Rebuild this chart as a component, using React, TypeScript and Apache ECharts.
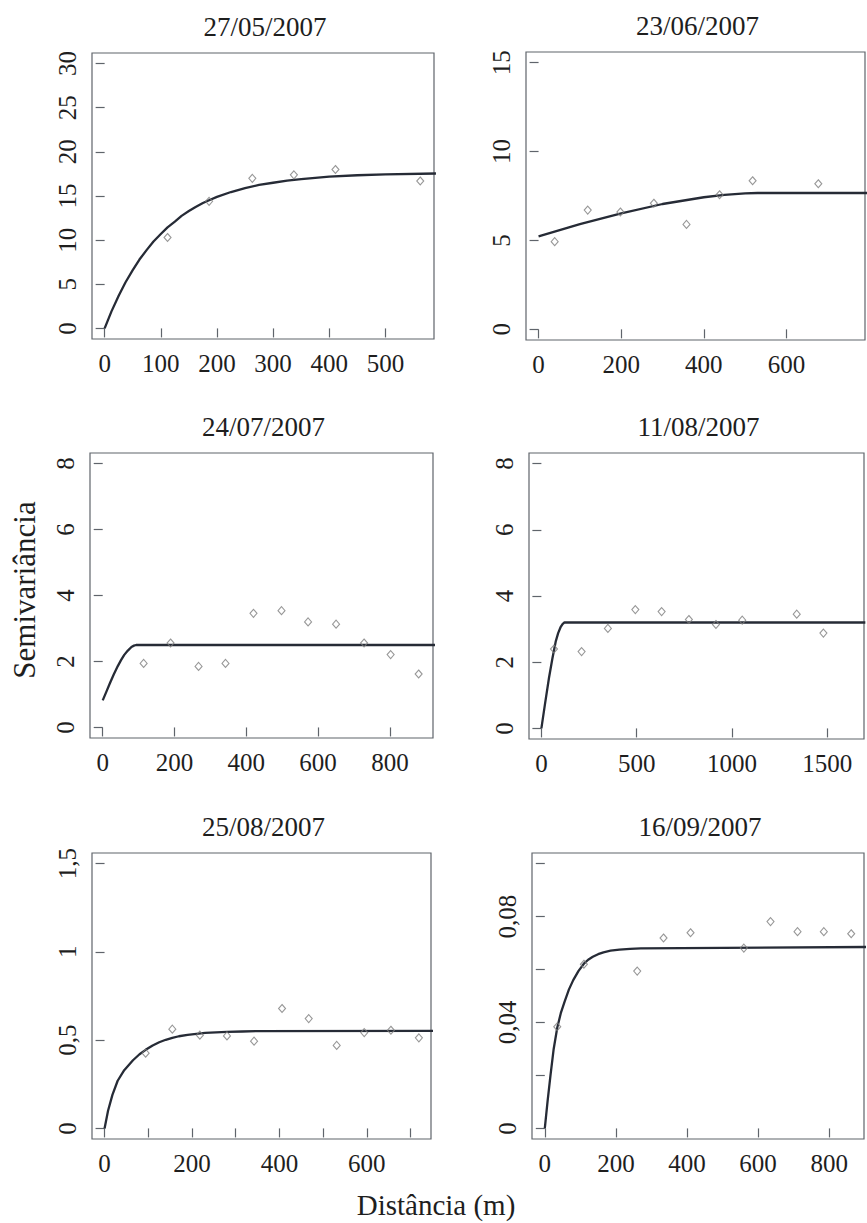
import React, { useEffect, useRef } from "react";
import * as echarts from "echarts";

// ---- Data ----
const panelTitles = ["27/05/2007", "23/06/2007", "24/07/2007", "11/08/2007", "25/08/2007", "16/09/2007"];

// 27/05/2007
const d1Dist = [112, 186, 263, 337, 411, 562];
const d1Semi = [10.3, 14.4, 17.0, 17.4, 18.0, 16.7];
const m1Dist = [0, 12, 25, 37, 50, 62, 75, 87, 100, 112, 125, 137, 150, 162, 175, 187, 200, 225, 250, 275, 300, 325, 350, 375, 400, 450, 500, 590];
const m1Semi = [0, 1.9, 3.7, 5.2, 6.6, 7.8, 8.9, 9.85, 10.7, 11.45, 12.1, 12.75, 13.3, 13.75, 14.2, 14.55, 14.9, 15.45, 15.9, 16.25, 16.5, 16.75, 16.9, 17.05, 17.2, 17.35, 17.45, 17.55];

// 23/06/2007
const d2Dist = [39, 119, 198, 279, 358, 438, 518, 677];
const d2Semi = [4.93, 6.71, 6.6, 7.09, 5.9, 7.57, 8.36, 8.19];
const m2Dist = [0, 100, 200, 300, 400, 450, 500, 530, 800];
const m2Semi = [5.23, 5.92, 6.52, 7.05, 7.43, 7.56, 7.65, 7.67, 7.67];

// 24/07/2007
const d3Dist = [114, 189, 267, 342, 420, 498, 572, 650, 728, 802, 880];
const d3Semi = [1.94, 2.56, 1.85, 1.94, 3.46, 3.54, 3.2, 3.13, 2.56, 2.21, 1.62];
const m3Dist = [0, 10, 20, 31, 42, 51, 60, 70, 80, 87, 93, 930];
const m3Semi = [0.82, 1.08, 1.34, 1.61, 1.86, 2.04, 2.2, 2.33, 2.44, 2.48, 2.5, 2.5];

// 11/08/2007
const d4Dist = [66, 211, 349, 493, 631, 774, 916, 1054, 1340, 1480];
const d4Semi = [2.4, 2.32, 3.02, 3.59, 3.53, 3.29, 3.14, 3.27, 3.45, 2.88];
const m4Dist = [0, 20, 40, 58, 75, 88, 100, 111, 121, 1700];
const m4Semi = [0, 0.78, 1.53, 2.12, 2.62, 2.88, 3.05, 3.15, 3.2, 3.2];

// 25/08/2007
const d5Dist = [94, 155, 218, 280, 342, 406, 467, 531, 594, 655, 719];
const d5Semi = [0.426, 0.562, 0.528, 0.524, 0.494, 0.679, 0.622, 0.47, 0.543, 0.556, 0.513];
const m5Dist = [0, 8, 18, 30, 45, 65, 80, 94, 110, 125, 140, 155, 170, 190, 210, 230, 255, 280, 315, 350, 760];
const m5Semi = [0, 0.1, 0.19, 0.27, 0.33, 0.386, 0.42, 0.445, 0.47, 0.488, 0.502, 0.513, 0.522, 0.53, 0.536, 0.541, 0.544, 0.547, 0.549, 0.551, 0.552];

// 16/09/2007
const d6Dist = [35, 110, 260, 334, 410, 560, 635, 711, 785, 862];
const d6Semi = [0.0384, 0.062, 0.0594, 0.0719, 0.0739, 0.0681, 0.0781, 0.0743, 0.0743, 0.0735];
const m6Dist = [0, 8, 16, 25, 35, 45, 56, 68, 80, 95, 110, 122, 135, 150, 165, 185, 210, 240, 270, 910];
const m6Semi = [0, 0.0105, 0.02, 0.03, 0.038, 0.0435, 0.048, 0.0525, 0.056, 0.0595, 0.0622, 0.0637, 0.0648, 0.0658, 0.0665, 0.0671, 0.0675, 0.0678, 0.068, 0.0685];

// Axis ticks and labels
const x1Ticks = [0, 100, 200, 300, 400, 500];
const y1Ticks = [0, 5, 10, 15, 20, 25, 30];
const x2Ticks = [0, 200, 400, 600];
const y2Ticks = [0, 5, 10, 15];
const x3Ticks = [0, 200, 400, 600, 800];
const y3Ticks = [0, 2, 4, 6, 8];
const x4Ticks = [0, 500, 1000, 1500];
const y4Ticks = [0, 2, 4, 6, 8];
const x5Ticks = [0, 100, 200, 300, 400, 500, 600, 700];
const x5Labels = [0, 200, 400, 600];
const y5Ticks = [0, 0.5, 1, 1.5];
const x6Ticks = [0, 200, 400, 600, 800];
const y6Ticks = [0, 0.02, 0.04, 0.06, 0.08, 0.1];
const y6Labels = [0, 0.04, 0.08];

const yAxisTitle = "Semivariância";
const xAxisTitle = "Distância (m)";

const FONT = "'Liberation Serif', serif";

const pairs = (xs: number[], ys: number[]) => xs.map((x, i) => [x, ys[i]]);

const panels = [
  { grid: { left: 92, top: 53, width: 342, height: 286 }, xr: [-22.5, 586.5], yr: [-1.2, 31.2],
    xt: x1Ticks, xl: x1Ticks, yt: y1Ticks, yl: y1Ticks, pts: pairs(d1Dist, d1Semi), mdl: pairs(m1Dist, m1Semi) },
  { grid: { left: 526, top: 52, width: 339, height: 288 }, xr: [-30.4, 790], yr: [-0.6, 15.6],
    xt: x2Ticks, xl: x2Ticks, yt: y2Ticks, yl: y2Ticks, pts: pairs(d2Dist, d2Semi), mdl: pairs(m2Dist, m2Semi) },
  { grid: { left: 90, top: 453, width: 343, height: 285 }, xr: [-35.4, 920], yr: [-0.32, 8.32],
    xt: x3Ticks, xl: x3Ticks, yt: y3Ticks, yl: y3Ticks, pts: pairs(d3Dist, d3Semi), mdl: pairs(m3Dist, m3Semi) },
  { grid: { left: 529, top: 453, width: 335, height: 286 }, xr: [-65, 1693], yr: [-0.32, 8.32],
    xt: x4Ticks, xl: x4Ticks, yt: y4Ticks, yl: y4Ticks, pts: pairs(d4Dist, d4Semi), mdl: pairs(m4Dist, m4Semi) },
  { grid: { left: 92, top: 853, width: 339, height: 286 }, xr: [-28.7, 746.7], yr: [-0.06, 1.56],
    xt: x5Ticks, xl: x5Labels, yt: y5Ticks, yl: y5Ticks, pts: pairs(d5Dist, d5Semi), mdl: pairs(m5Dist, m5Semi) },
  { grid: { left: 532, top: 853, width: 332, height: 286 }, xr: [-36, 898], yr: [-0.004, 0.104],
    xt: x6Ticks, xl: x6Ticks, yt: y6Ticks, yl: y6Labels, pts: pairs(d6Dist, d6Semi), mdl: pairs(m6Dist, m6Semi) },
];

const fmt = (v: number) => String(Math.round(v * 1000) / 1000).replace(".", ",");

export default function App() {
  const ref = useRef<HTMLDivElement>(null);
  useEffect(() => {
    if (!ref.current) return;
    const chart = echarts.init(ref.current, undefined, { renderer: "svg" });
    const grids: any[] = [];
    const xAxes: any[] = [];
    const yAxes: any[] = [];
    const series: any[] = [];
    const graphics: any[] = [];
    const labelStyle = { color: "#1e1e1e", fontFamily: FONT, fontSize: 25 };
    panels.forEach((p, i) => {
      grids.push({ ...p.grid, show: true, borderColor: "#5f646b", borderWidth: 1.2, backgroundColor: "#ffffff", containLabel: false });
      xAxes.push({
        type: "value", gridIndex: i, min: p.xr[0], max: p.xr[1],
        axisLine: { show: false }, splitLine: { show: false },
        axisTick: { show: true, inside: false, length: 9, customValues: p.xt, lineStyle: { color: "#5f646b", width: 1.2 } },
        axisLabel: { show: true, margin: 12, customValues: p.xl, formatter: fmt, ...labelStyle },
      });
      yAxes.push({
        type: "value", gridIndex: i, min: p.yr[0], max: p.yr[1],
        axisLine: { show: false }, splitLine: { show: false },
        axisTick: { show: true, inside: false, length: 9, customValues: p.yt, lineStyle: { color: "#5f646b", width: 1.2 } },
        axisLabel: { show: true, margin: 12, rotate: 90, customValues: p.yl, formatter: fmt, ...labelStyle },
      });
      series.push({
        type: "line", xAxisIndex: i, yAxisIndex: i, data: p.mdl, showSymbol: false, symbol: "none",
        smooth: false, lineStyle: { color: "#262b36", width: 2.3, join: "round" }, z: 2, clip: true,
      });
      series.push({
        type: "scatter", xAxisIndex: i, yAxisIndex: i, data: p.pts, symbol: "diamond", symbolSize: [7, 8],
        itemStyle: { color: "rgba(255,255,255,0)", borderColor: "#7d7d7d", borderWidth: 1.1 }, z: 3,
      });
      graphics.push({
        type: "text", x: p.grid.left + p.grid.width / 2 + 2, y: p.grid.top - 26,
        style: { text: panelTitles[i], font: `27px ${FONT}`, fill: "#1e1e1e", textAlign: "center", textVerticalAlign: "middle" },
      });
    });
    graphics.push({
      type: "text", x: 24, y: 590, rotation: Math.PI / 2,
      style: { text: yAxisTitle, font: `31px ${FONT}`, fill: "#1e1e1e", textAlign: "center", textVerticalAlign: "middle" },
    });
    graphics.push({
      type: "text", x: 436, y: 1205,
      style: { text: xAxisTitle, font: `29px ${FONT}`, fill: "#1e1e1e", textAlign: "center", textVerticalAlign: "middle" },
    });
    chart.setOption({
      animation: false,
      backgroundColor: "#ffffff",
      textStyle: { fontFamily: FONT },
      grid: grids,
      xAxis: xAxes,
      yAxis: yAxes,
      series,
      graphic: { elements: graphics },
    });
    return () => chart.dispose();
  }, []);
  return (
    <>
      <style>{`.semivar-chart svg text { font-family: 'Liberation Serif', 'Times New Roman', serif !important; }`}</style>
      <div className="semivar-chart" ref={ref} style={{ position: "fixed", left: 0, top: 0, width: 867, height: 1223 }} />
    </>
  );
}
